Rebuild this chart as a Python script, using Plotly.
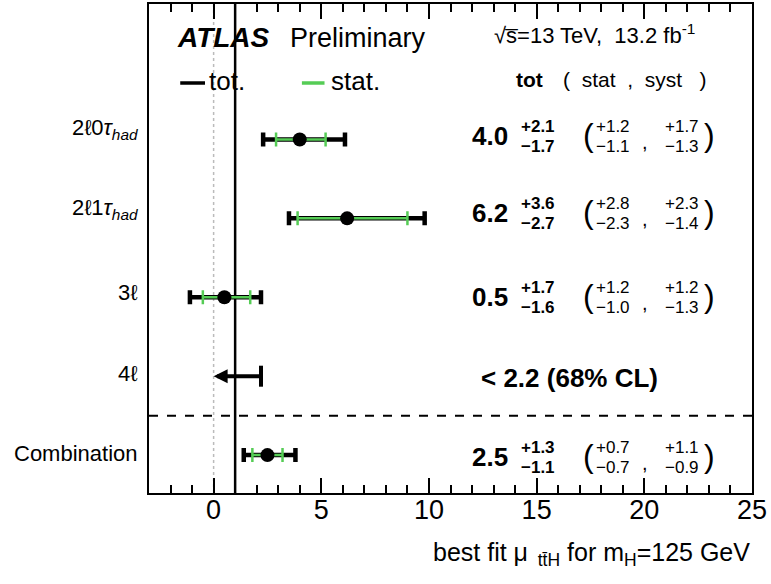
import plotly.graph_objects as go

# ---- measured signal strengths (best fit mu_ttH) per channel ----
channels = ["2ℓ0<i>τ</i><sub><i>had</i></sub>",
            "2ℓ1<i>τ</i><sub><i>had</i></sub>",
            "3ℓ",
            "4ℓ",
            "Combination"]
row_pos = [5, 4, 3, 2, 1]

fit_rows = [0, 1, 2, 4]            # channels with a central value
mu      = [4.0, 6.2, 0.5, 2.5]
tot_up  = [2.1, 3.6, 1.7, 1.3]
tot_dn  = [1.7, 2.7, 1.6, 1.1]
stat_up = [1.2, 2.8, 1.2, 0.7]
stat_dn = [1.1, 2.3, 1.0, 0.7]
syst_up = [1.7, 2.3, 1.2, 1.1]
syst_dn = [1.3, 1.4, 1.3, 0.9]

limit_row = 3                      # 4l channel: upper limit only
limit_value = 2.2
limit_arrow_end = 0.0
limit_text = "< 2.2 (68% CL)"

sm_mu = 1.0
separator_y = 1.5

x_ticks = [0, 5, 10, 15, 20, 25]
x_range = [-3, 25]
y_range = [0.52, 6.716]

FONT = "Liberation Sans, Arial, Helvetica, sans-serif"
GREEN = "#55cc55"

fit_y = [row_pos[i] for i in fit_rows]

fig = go.Figure()

# total uncertainty
fig.add_trace(go.Scatter(
    x=mu, y=fit_y, mode="markers",
    marker=dict(size=1, color="rgba(0,0,0,0)"),
    error_x=dict(type="data", symmetric=False, array=tot_up, arrayminus=tot_dn,
                 color="black", thickness=4.5, width=7),
    showlegend=False, hoverinfo="skip"))

# statistical uncertainty + central value
fig.add_trace(go.Scatter(
    x=mu, y=fit_y, mode="markers",
    marker=dict(size=14, color="black", symbol="circle"),
    error_x=dict(type="data", symmetric=False, array=stat_up, arrayminus=stat_dn,
                 color=GREEN, thickness=2.5, width=7),
    showlegend=False, hoverinfo="skip"))

# upper limit bar end
fig.add_trace(go.Scatter(
    x=[limit_value], y=[row_pos[limit_row]], mode="markers",
    marker=dict(symbol="line-ns", size=15, line=dict(width=4, color="black")),
    showlegend=False, hoverinfo="skip"))

annotations = []

# upper limit arrow
annotations.append(dict(
    x=limit_arrow_end, y=row_pos[limit_row], xref="x", yref="y",
    ax=limit_value, ay=row_pos[limit_row], axref="x", ayref="y",
    text="", showarrow=True, arrowhead=2, arrowsize=0.7, arrowwidth=4,
    arrowcolor="black", standoff=0, startstandoff=0))

# channel labels
label_shift = [10, 9, 5, 3, 2]
for i, name in enumerate(channels):
    annotations.append(dict(
        x=-0.015, y=row_pos[i], xref="paper", yref="y", xanchor="right",
        yanchor="middle", yshift=label_shift[i], text=name, showarrow=False,
        font=dict(family=FONT, size=22, color="black")))

# numeric results on the right
text_shift = {0: 3, 1: 5, 2: 0, 3: -2, 4: -2}
for k, i in enumerate(fit_rows):
    y = row_pos[i]
    ys = text_shift[i]
    annotations += [
        dict(x=13.75, y=y, xanchor="right", yshift=ys, text=f"<b>{mu[k]:.1f}</b>",
             font=dict(family=FONT, size=26, color="black")),
        dict(x=14.2, y=y, xanchor="left", yshift=ys + 10, text=f"<b>+{tot_up[k]:.1f}</b>",
             font=dict(family=FONT, size=17, color="black")),
        dict(x=14.2, y=y, xanchor="left", yshift=ys - 10, text=f"<b>−{tot_dn[k]:.1f}</b>",
             font=dict(family=FONT, size=17, color="black")),
        dict(x=17.05, y=y, xanchor="left", yshift=ys + 1, text="(",
             font=dict(family=FONT, size=32, color="black")),
        dict(x=17.65, y=y, xanchor="left", yshift=ys + 10, text=f"+{stat_up[k]:.1f}",
             font=dict(family=FONT, size=17, color="black")),
        dict(x=17.65, y=y, xanchor="left", yshift=ys - 10, text=f"−{stat_dn[k]:.1f}",
             font=dict(family=FONT, size=17, color="black")),
        dict(x=20.05, y=y, xanchor="center", yshift=ys - 6, text=",",
             font=dict(family=FONT, size=20, color="black")),
        dict(x=20.85, y=y, xanchor="left", yshift=ys + 10, text=f"+{syst_up[k]:.1f}",
             font=dict(family=FONT, size=17, color="black")),
        dict(x=20.85, y=y, xanchor="left", yshift=ys - 10, text=f"−{syst_dn[k]:.1f}",
             font=dict(family=FONT, size=17, color="black")),
        dict(x=22.7, y=y, xanchor="left", yshift=ys + 1, text=")",
             font=dict(family=FONT, size=32, color="black")),
    ]

annotations.append(dict(
    x=12.3, y=row_pos[limit_row], xanchor="left", yshift=text_shift[limit_row],
    text=f"<b>{limit_text}</b>", font=dict(family=FONT, size=26, color="black")))

# header
annotations += [
    dict(x=-1.8, y=6.29, xanchor="left", text="<b><i>ATLAS</i></b>",
         font=dict(family=FONT, size=28, color="black")),
    dict(x=3.45, y=6.29, xanchor="left", text="Preliminary",
         font=dict(family=FONT, size=27, color="black")),
    dict(x=12.95, y=6.33, xanchor="left", text="√s̅=13 TeV,  13.2 fb<sup>-1</sup>",
         font=dict(family=FONT, size=22, color="black")),
    dict(x=-0.3, y=5.74, xanchor="left", text="tot.",
         font=dict(family=FONT, size=26, color="black")),
    dict(x=5.35, y=5.74, xanchor="left", text="stat.",
         font=dict(family=FONT, size=26, color="black")),
    dict(x=13.95, y=5.76, xanchor="left", text="<b>tot</b>",
         font=dict(family=FONT, size=21, color="black")),
    dict(x=16.15, y=5.76, xanchor="left", text="(  stat  ,  syst   )",
         font=dict(family=FONT, size=21, color="black")),
]

# x-axis title
annotations.append(dict(
    x=1.0, y=-0.125, xref="paper", yref="paper", xanchor="right", yanchor="middle",
    text="best fit μ<sub>  tt̄H</sub> for m<sub>H</sub>=125 GeV",
    font=dict(family=FONT, size=25, color="black")))

for a in annotations:
    a.setdefault("xref", "x")
    a.setdefault("yref", "y")
    a.setdefault("showarrow", False)
    a.setdefault("yanchor", "middle")

shapes = [
    # mu = 0 reference
    dict(type="line", xref="x", yref="paper", x0=0, x1=0, y0=0, y1=1,
         line=dict(color="#bbbbbb", width=1.5, dash="dot"), layer="below"),
    # SM expectation
    dict(type="line", xref="x", yref="paper", x0=sm_mu, x1=sm_mu, y0=0, y1=1,
         line=dict(color="black", width=2.5), layer="below"),
    # separator between channels and combination
    dict(type="line", xref="paper", yref="y", x0=0, x1=1, y0=separator_y, y1=separator_y,
         line=dict(color="black", width=2, dash="dash")),
    # legend lines
    dict(type="line", xref="x", yref="y", x0=-1.55, x1=-0.4, y0=5.715, y1=5.715,
         line=dict(color="black", width=3.5)),
    dict(type="line", xref="x", yref="y", x0=4.1, x1=5.15, y0=5.715, y1=5.715,
         line=dict(color=GREEN, width=3.5)),
]

fig.update_layout(
    width=771, height=584,
    margin=dict(l=149, r=19, t=2, b=91),
    paper_bgcolor="white", plot_bgcolor="white",
    font=dict(family=FONT, color="black"),
    annotations=annotations, shapes=shapes,
    showlegend=False,
)

fig.update_xaxes(
    range=x_range, tickvals=x_ticks, ticktext=[str(t) for t in x_ticks],
    ticks="inside", ticklen=15, tickwidth=1.5, tickcolor="black",
    minor=dict(ticks="inside", ticklen=8, tickwidth=1.5, dtick=1, tick0=0, tickcolor="black"),
    showline=True, linewidth=2, linecolor="black", mirror="ticks",
    showgrid=False, zeroline=False, ticklabelstandoff=-8,
    tickfont=dict(family=FONT, size=27, color="black"),
)
fig.update_yaxes(
    range=y_range, showticklabels=False, ticks="",
    showline=True, linewidth=2, linecolor="black", mirror=True,
    showgrid=False, zeroline=False,
)

fig.write_html("out.html")
